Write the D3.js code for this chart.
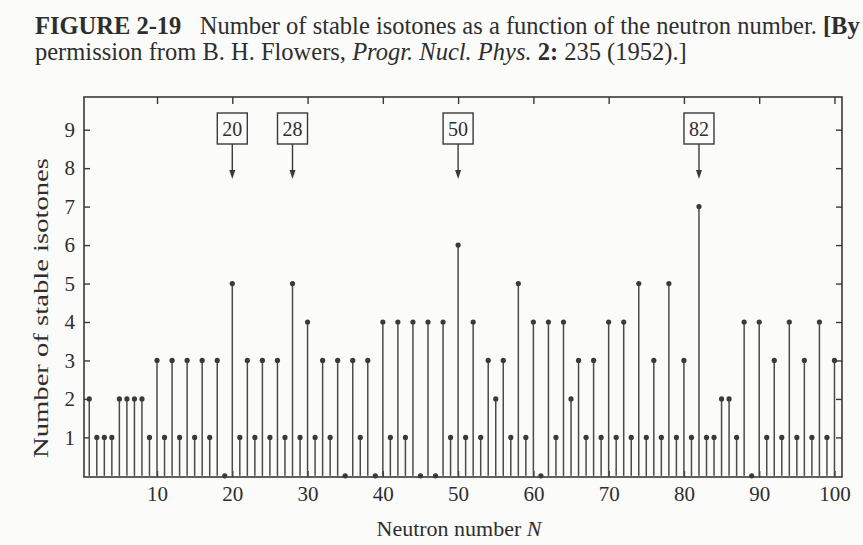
<!DOCTYPE html>
<html>
<head>
<meta charset="utf-8">
<script src="https://cdn.jsdelivr.net/npm/d3@7"></script>
<style>
  html, body { margin: 0; padding: 0; background: #fbfbfa; }
  svg { display: block; }
  text { font-family: "Liberation Serif", "DejaVu Serif", serif; fill: #2e2e2e; }
</style>
</head>
<body>
<svg id="chart" width="863" height="545"></svg>
<script>
// ---- data ----
const neutronNumbers = d3.range(1, 101);
const isotoneCounts = [
  2,1,1,1,2,2,2,2,1,3,
  1,3,1,3,1,3,1,3,0,5,
  1,3,1,3,1,3,1,5,1,4,
  1,3,1,3,0,3,1,3,0,4,
  1,4,1,4,0,4,0,4,1,6,
  1,4,1,3,2,3,1,5,1,4,
  0,4,1,4,2,3,1,3,1,4,
  1,4,1,5,1,3,1,5,1,3,
  1,7,1,1,2,2,1,4,0,4,
  1,3,1,4,1,3,1,4,1,3
];
const magicNumbers = [20, 28, 50, 82];
const xTicks = [10, 20, 30, 40, 50, 60, 70, 80, 90, 100];
const yTicks = [1, 2, 3, 4, 5, 6, 7, 8, 9];

const data = neutronNumbers.map((n, i) => ({ n, v: isotoneCounts[i] }));

const svg = d3.select("#chart");
const ink = "#3a3a3a";

const pLeft = 84, pRight = 842, pTop = 97, pBottom = 477;
const x = d3.scaleLinear().domain([0.3, 101]).range([pLeft, pRight]);
const y = d3.scaleLinear().domain([-0.03, 9.85]).range([pBottom, pTop]);

// caption (font size fitted so the first line spans the reference width)
const cap1 = svg.append("text").attr("x", 35).attr("y", 34).attr("font-size", 20);
cap1.append("tspan").attr("font-weight", "bold").text("FIGURE 2-19");
cap1.append("tspan").text("\u2002 Number of stable isotones as a function of the neutron number. ");
cap1.append("tspan").attr("font-weight", "bold").text("[By");
const w1 = cap1.node().getComputedTextLength();
const capSize = 20 * 825 / w1;
cap1.attr("font-size", capSize);

const cap2 = svg.append("text").attr("x", 35).attr("y", 60).attr("font-size", capSize);
cap2.append("tspan").text("permission from B. H. Flowers, ");
cap2.append("tspan").attr("font-style", "italic").text("Progr. Nucl. Phys.");
cap2.append("tspan").text(" ");
cap2.append("tspan").attr("font-weight", "bold").text("2:");
cap2.append("tspan").text(" 235 (1952).]");

// frame
svg.append("rect").attr("x", pLeft).attr("y", pTop)
  .attr("width", pRight - pLeft).attr("height", pBottom - pTop)
  .attr("fill", "none").attr("stroke", ink).attr("stroke-width", 1.6);

// axes with inward ticks
const gBottom = svg.append("g").attr("transform", `translate(0,${pBottom})`)
  .call(d3.axisBottom(x).tickValues(xTicks).tickSizeInner(-6).tickSizeOuter(0).tickPadding(9));
const gTop = svg.append("g").attr("transform", `translate(0,${pTop})`)
  .call(d3.axisTop(x).tickValues(xTicks).tickSizeInner(-7).tickSizeOuter(0).tickFormat(""));
const gLeft = svg.append("g").attr("transform", `translate(${pLeft},0)`)
  .call(d3.axisLeft(y).tickValues(yTicks).tickSizeInner(-6).tickSizeOuter(0).tickPadding(9));
const gRight = svg.append("g").attr("transform", `translate(${pRight},0)`)
  .call(d3.axisRight(y).tickValues(yTicks).tickSizeInner(-6).tickSizeOuter(0).tickFormat(""));

[gBottom, gTop, gLeft, gRight].forEach(g => {
  g.select(".domain").remove();
  g.selectAll(".tick line").attr("stroke", ink).attr("stroke-width", 1.4);
  g.selectAll(".tick text").attr("font-size", 21).attr("fill", "#2e2e2e")
    .attr("font-family", "Liberation Serif, DejaVu Serif, serif");
});

// stems
svg.append("g").selectAll("line").data(data.filter(d => d.v > 0)).join("line")
  .attr("x1", d => x(d.n)).attr("x2", d => x(d.n))
  .attr("y1", y(0)).attr("y2", d => y(d.v))
  .attr("stroke", "#4a4a4a").attr("stroke-width", 1.5);

svg.append("g").selectAll("circle").data(data).join("circle")
  .attr("cx", d => x(d.n)).attr("cy", d => y(d.v)).attr("r", 2.6)
  .attr("fill", "#3a3a3a");

// magic number markers
const mg = svg.append("g").selectAll("g").data(magicNumbers).join("g")
  .attr("transform", d => `translate(${x(d)},0)`);
mg.append("rect").attr("x", -15).attr("y", 113).attr("width", 30).attr("height", 31)
  .attr("fill", "none").attr("stroke", ink).attr("stroke-width", 1.4);
mg.append("text").attr("x", 0).attr("y", 136).attr("text-anchor", "middle")
  .attr("font-size", 20).text(d => d);
mg.append("line").attr("x1", 0).attr("x2", 0).attr("y1", 144).attr("y2", 172)
  .attr("stroke", ink).attr("stroke-width", 1.4);
mg.append("path").attr("d", "M-3,170 L3,170 L0,179 Z").attr("fill", ink);

// axis titles
const xt = svg.append("text").attr("x", 459).attr("y", 536)
  .attr("text-anchor", "middle").attr("font-size", 22);
xt.append("tspan").text("Neutron number ");
xt.append("tspan").attr("font-style", "italic").text("N");

svg.append("text").attr("transform", "translate(48,308) rotate(-90)")
  .attr("text-anchor", "middle").attr("font-size", 22)
  .attr("textLength", 300).attr("lengthAdjust", "spacingAndGlyphs")
  .text("Number of stable isotones");
</script>
</body>
</html>
